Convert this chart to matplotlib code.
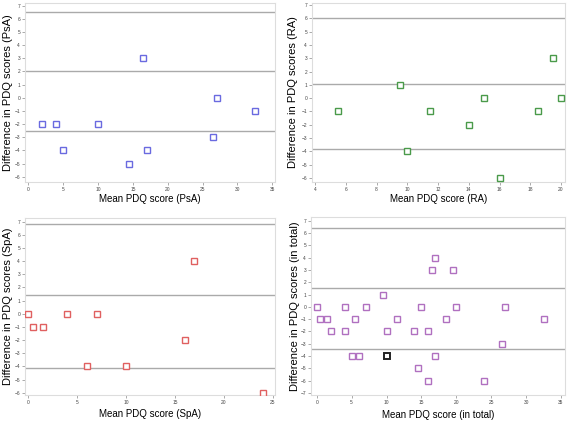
import matplotlib
matplotlib.use("Agg")
import matplotlib.pyplot as plt

plt.rcParams['font.family'] = ['Liberation Sans', 'DejaVu Sans']

# PsA
psa_x = [2, 4, 5, 10, 14.5, 16.5, 17, 26.5, 27, 32.5]
psa_y = [-2, -2, -4, -2, -5, 3, -4, -3, 0, -1]
psa_lines = [6.5, 2.0, -2.5]

# RA
ra_x = [5.5, 9.5, 10, 11.5, 14, 15, 16, 18.5, 19.5, 20]
ra_y = [-1, 1, -4, -1, -2, 0, -6, -1, 3, 0]
ra_lines = [6.0, 1.1, -3.8]

# SpA
spa_x = [0, 0.5, 1.5, 4, 6, 7, 10, 16, 17, 24]
spa_y = [0, -1, -1, 0, -4, 0, -4, -2, 4, -6]
spa_lines = [6.8, 1.4, -4.1]

# Total
tot_x = [0, 0.5, 1.5, 2, 4, 4, 5, 5.5, 6, 7, 9.5, 10, 11.5, 14, 14.5, 15,
         16, 16, 16.5, 17, 17, 18.5, 19.5, 20, 24, 26.5, 27, 32.5]
tot_y = [0, -1, -1, -2, 0, -2, -4, -1, -4, 0, 1, -2, -1, -2, -5, 0,
         -2, -6, 3, 4, -4, -1, 3, 0, -6, -3, 0, -1]
tot_overlap_x = [10]
tot_overlap_y = [-4]
tot_lines = [6.4, 1.5, -3.4]

W, H = 567, 423
fig = plt.figure(figsize=(W / 100, H / 100), dpi=100)


def make_ax(l, t, r, b):
    return fig.add_axes([l / W, (H - b) / H, (r - l) / W, (b - t) / H])


panels = [
    dict(box=(25, 3, 275, 182), x=psa_x, y=psa_y, lines=psa_lines, color='#6a6ae0',
         xlim=(-0.5, 35.4), ylim=(-6.4, 7.2), xticks=range(0, 36, 5), yticks=range(-6, 8),
         xlabel='Mean PDQ score (PsA)', ylabel='Difference in PDQ scores (PsA)',
         ylx=-0.068, xly=-0.095),
    dict(box=(312, 3, 565, 182), x=ra_x, y=ra_y, lines=ra_lines, color='#4a9a4a',
         xlim=(3.8, 20.26), ylim=(-6.3, 7.15), xticks=range(4, 21, 2), yticks=range(-6, 8),
         xlabel='Mean PDQ score (RA)', ylabel='Difference in PDQ scores (RA)',
         ylx=-0.075, xly=-0.095),
    dict(box=(25, 218, 275, 395), x=spa_x, y=spa_y, lines=spa_lines, color='#e06060',
         xlim=(-0.34, 25.24), ylim=(-6.17, 7.28), xticks=range(0, 26, 5), yticks=range(-6, 8),
         xlabel='Mean PDQ score (SpA)', ylabel='Difference in PDQ scores (SpA)',
         ylx=-0.068, xly=-0.107),
    dict(box=(311, 217, 565, 395), x=tot_x, y=tot_y, lines=tot_lines, color='#b070c0',
         xlim=(-0.82, 35.57), ylim=(-7.16, 7.3), xticks=range(0, 36, 5), yticks=range(-7, 8),
         xlabel='Mean PDQ score (in total)', ylabel='Difference in PDQ scores (in total)',
         ylx=-0.063, xly=-0.112),
]

axes = []
for p in panels:
    ax = make_ax(*p['box'])
    for v in p['lines']:
        ax.axhline(v, color='#aaaaaa', lw=1.0, zorder=1)
    ax.plot(p['x'], p['y'], linestyle='none', marker='s', markersize=4.8,
            markerfacecolor='white', markeredgecolor=p['color'], markeredgewidth=1.0, zorder=3)
    ax.set_xlim(*p['xlim'])
    ax.set_ylim(*p['ylim'])
    ax.set_xticks(list(p['xticks']))
    ax.set_yticks(list(p['yticks']))
    ax.tick_params(labelsize=3.5, length=2, width=0.5, color='#888888', labelcolor='#444444', pad=1.5)
    for s in ax.spines.values():
        s.set_color('#dddddd')
        s.set_linewidth(0.8)
    ax.set_xlabel(p['xlabel'], fontsize=7.0)
    ax.set_ylabel(p['ylabel'], fontsize=8.0)
    ax.xaxis.set_label_coords(0.5, p['xly'])
    ax.yaxis.set_label_coords(p['ylx'], 0.5)
    ax.xaxis.label.set_va('center')
    ax.yaxis.label.set_va('center')
    axes.append(ax)

axes[3].plot(tot_overlap_x, tot_overlap_y, linestyle='none', marker='s', markersize=4.8,
             markerfacecolor='white', markeredgecolor='#222222', markeredgewidth=1.4, zorder=4)

fig.savefig('out.png', dpi=100, facecolor='white')
